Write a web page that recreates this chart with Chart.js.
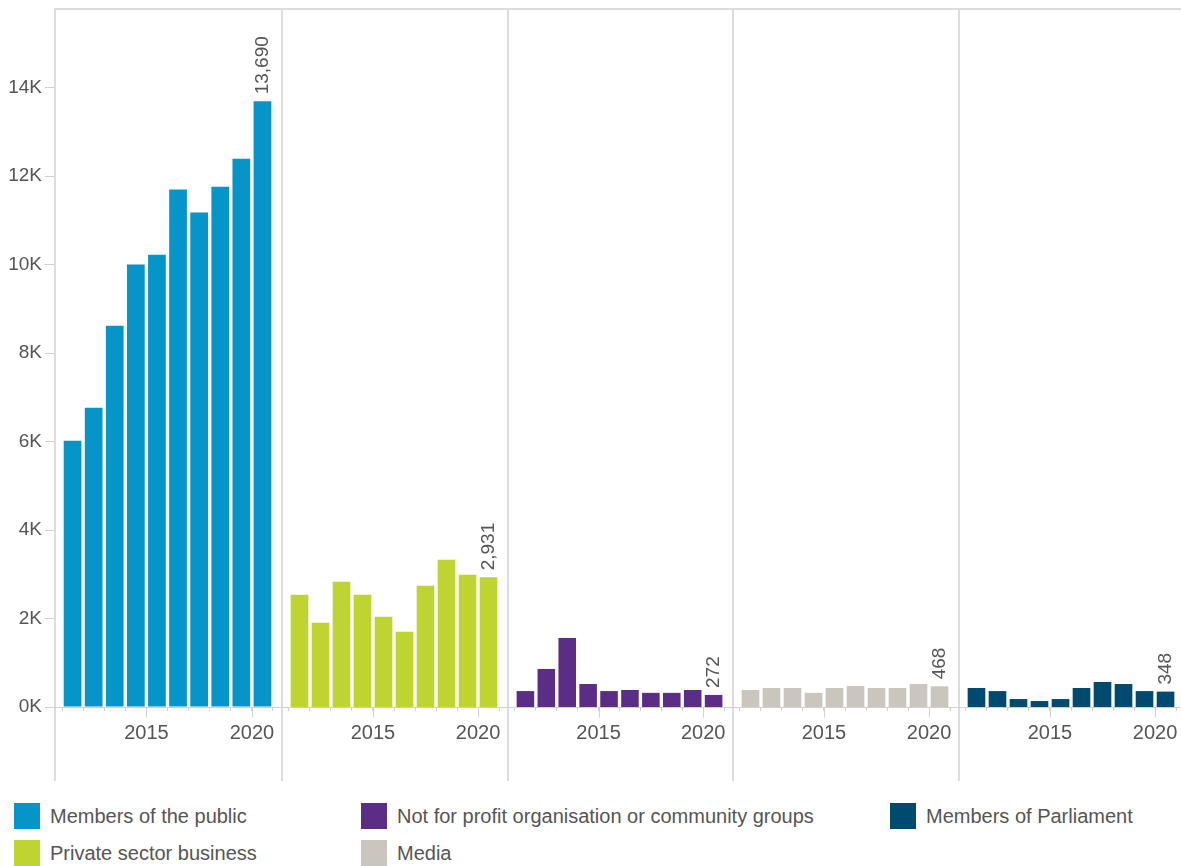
<!DOCTYPE html>
<html>
<head>
<meta charset="utf-8">
<title>Requests by requester type</title>
<script src="https://cdn.jsdelivr.net/npm/chart.js@4.4.0/dist/chart.umd.min.js"></script>
<style>
    html, body { margin: 0; padding: 0; background: #fff; overflow: hidden; }
    body { width: 1181px; height: 866px; position: relative; font-family: "Liberation Sans", Arial, sans-serif; }
    .panel { position: absolute; top: 0; }
    .panel canvas { display: block; }
    #legend {
        position: absolute; left: 14px; top: 803px;
        display: grid; grid-auto-flow: column;
        grid-template-rows: 26px 26px; grid-template-columns: 347px 529px auto;
        row-gap: 11px;
    }
    .legend-item { display: flex; align-items: center; font-size: 20px; color: #555; white-space: nowrap; }
    .legend-swatch { width: 26px; height: 26px; margin-right: 10px; flex: none; }
</style>
</head>
<body>
<div class="panel" style="left:0px"><canvas id="panel0" width="281" height="781"></canvas></div>
<div class="panel" style="left:281px"><canvas id="panel1" width="226" height="781"></canvas></div>
<div class="panel" style="left:507px"><canvas id="panel2" width="225" height="781"></canvas></div>
<div class="panel" style="left:732px"><canvas id="panel3" width="226" height="781"></canvas></div>
<div class="panel" style="left:958px"><canvas id="panel4" width="226" height="781"></canvas></div>
<div id="legend"></div>

<script>
// --- Data ---
const years = [2011, 2012, 2013, 2014, 2015, 2016, 2017, 2018, 2019, 2020];
const yearTicks = [2011, 2012, 2013, 2014, 2015, 2016, 2017, 2018, 2019, 2020, 2021];
const labeledYears = [2015, 2020];
const yTicks = [0, 2000, 4000, 6000, 8000, 10000, 12000, 14000];

const seriesNames = [
    'Members of the public',
    'Private sector business',
    'Not for profit organisation or community groups',
    'Media',
    'Members of Parliament'
];
const publicValues = [6020, 6765, 8620, 10000, 10225, 11695, 11180, 11760, 12395, 13690];
const privateValues = [2540, 1905, 2830, 2540, 2040, 1700, 2740, 3330, 2990, 2931];
const notForProfitValues = [360, 860, 1560, 520, 360, 385, 320, 320, 385, 272];
const mediaValues = [385, 430, 430, 320, 430, 475, 430, 430, 520, 468];
const parliamentValues = [430, 360, 180, 135, 180, 430, 565, 520, 360, 348];
const seriesColors = ['#0595c9', '#bfd430', '#5c2d86', '#cac6bd', '#004a6f'];

// panel order left to right
const panelSeries = [publicValues, privateValues, notForProfitValues, mediaValues, parliamentValues];

const FONT = '"Liberation Sans", Arial, sans-serif';
const TEXT_COLOR = '#555';
const RULE_COLOR = '#dcdcdc';
const TICK_COLOR = '#d0d0d0';

// --- Plugins ---
// panel frame: top rule, left rule running below the axis, zero line, long ticks on labelled years
const panelFrame = {
    id: 'panelFrame',
    beforeDatasetsDraw(chart) {
        const { ctx, chartArea, scales } = chart;
        const hasYAxis = chart.options.scales.y.display;
        ctx.save();
        ctx.strokeStyle = RULE_COLOR;
        ctx.lineWidth = 2;
        ctx.beginPath();
        ctx.moveTo(chartArea.left, 9);
        ctx.lineTo(chart.width, 9);
        ctx.stroke();
        ctx.beginPath();
        ctx.moveTo(chartArea.left + 1, 8);
        ctx.lineTo(chartArea.left + 1, chart.height);
        ctx.stroke();

        const y0 = Math.round(scales.y.getPixelForValue(0)) + 0.5;
        ctx.strokeStyle = TICK_COLOR;
        ctx.lineWidth = 1;
        ctx.beginPath();
        ctx.moveTo(hasYAxis ? chartArea.left - 9 : chartArea.left, y0);
        ctx.lineTo(chart.width, y0);
        ctx.stroke();

        labeledYears.forEach(yr => {
            const x = Math.round(scales.x.getPixelForValue(yr)) + 0.5;
            ctx.beginPath();
            ctx.moveTo(x, y0);
            ctx.lineTo(x, y0 + 10);
            ctx.stroke();
        });
        ctx.restore();
    }
};

// rotated value label above the most recent bar
const lastValueLabel = {
    id: 'lastValueLabel',
    afterDatasetsDraw(chart) {
        const meta = chart.getDatasetMeta(0);
        const last = meta.data.length - 1;
        const bar = meta.data[last];
        const value = chart.data.datasets[0].data[last].y;
        const { ctx } = chart;
        ctx.save();
        ctx.translate(bar.x, bar.y - 7);
        ctx.rotate(-Math.PI / 2);
        ctx.font = '19px ' + FONT;
        ctx.fillStyle = TEXT_COLOR;
        ctx.textAlign = 'left';
        ctx.textBaseline = 'middle';
        ctx.fillText(value.toLocaleString('en-US'), 0, 0);
        ctx.restore();
    }
};

// --- Chart builder ---
function makePanel(index) {
    const values = panelSeries[index];
    const showY = index === 0;
    return new Chart(document.getElementById('panel' + index), {
        type: 'bar',
        data: {
            datasets: [{
                label: seriesNames[index],
                data: years.map((yr, i) => ({ x: yr + 0.5, y: values[i] })),
                backgroundColor: seriesColors[index],
                barPercentage: 0.84,
                categoryPercentage: 1
            }]
        },
        options: {
            responsive: false,
            animation: false,
            layout: { padding: { top: 8, left: 0, right: 0, bottom: 0 } },
            plugins: { legend: { display: false }, tooltip: { enabled: false } },
            scales: {
                x: {
                    type: 'linear',
                    min: 2010.62,
                    max: 2021.38,
                    offset: false,
                    afterBuildTicks: scale => { scale.ticks = yearTicks.map(v => ({ value: v })); },
                    afterFit: scale => {
                        scale.height = 74;
                        scale.paddingLeft = 0;
                        scale.paddingRight = 0;
                    },
                    ticks: {
                        autoSkip: false,
                        maxRotation: 0,
                        padding: 10,
                        color: TEXT_COLOR,
                        font: { size: 20, family: FONT },
                        callback: v => labeledYears.includes(v) ? String(v) : ''
                    },
                    grid: { offset: false, drawOnChartArea: false, drawTicks: true, tickLength: 4, color: TICK_COLOR },
                    border: { display: false }
                },
                y: {
                    display: showY,
                    min: 0,
                    max: 15800,
                    afterBuildTicks: scale => { scale.ticks = yTicks.map(v => ({ value: v })); },
                    afterFit: scale => {
                        scale.width = showY ? 54 : 0;
                        scale.paddingTop = 0;
                        scale.paddingBottom = 0;
                    },
                    ticks: {
                        padding: 3,
                        color: TEXT_COLOR,
                        font: { size: 19, family: FONT },
                        callback: v => (v / 1000) + 'K'
                    },
                    grid: { drawOnChartArea: false, drawTicks: true, tickLength: 9, color: TICK_COLOR },
                    border: { display: false }
                }
            }
        },
        plugins: [panelFrame, lastValueLabel]
    });
}

panelSeries.forEach((_, i) => makePanel(i));

// --- Legend ---
const legendOrder = [0, 1, 2, 3, 4];
document.getElementById('legend').innerHTML = legendOrder.map(i => `
    <div class="legend-item">
        <span class="legend-swatch" style="background:${seriesColors[i]}"></span>
        <span>${seriesNames[i]}</span>
    </div>`).join('');
</script>
</body>
</html>
